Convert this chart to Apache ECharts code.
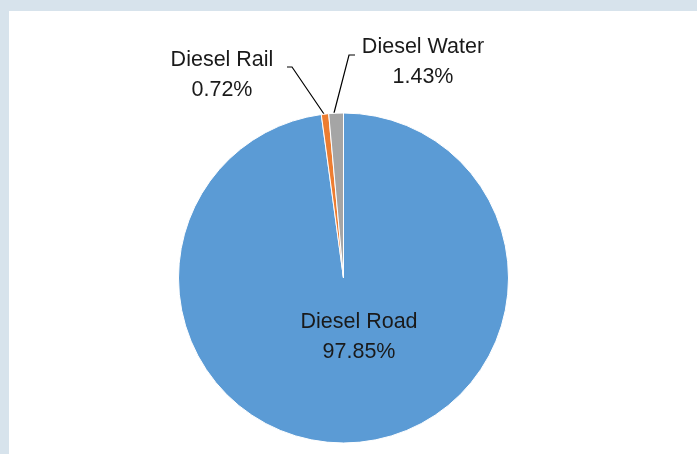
<!DOCTYPE html>
<html><head><meta charset="utf-8">
<script src="https://cdn.jsdelivr.net/npm/echarts@6/dist/echarts.min.js"></script>
<style>html,body{margin:0;padding:0;}#c{width:697px;height:454px;}</style>
</head><body><div id="c"></div>
<script>
const categories = ['Diesel Road', 'Diesel Rail', 'Diesel Water'];
const values = [97.85, 0.72, 1.43];
const colors = ['#5b9bd5', '#ed7d31', '#a5a5a5'];

const chart = echarts.init(document.getElementById('c'));
const txt = {color: '#1a1a1a', fontSize: 21.5, fontFamily: 'Liberation Sans', lineHeight: 30};
const data = categories.map((n, i) => ({
  name: n, value: values[i], itemStyle: {color: colors[i]},
  label: i === 0 ? {position: 'inside'} : {position: 'outside'},
  labelLine: {show: i !== 0}
}));
chart.setOption({
  backgroundColor: '#d7e3ec',
  graphic: [{type: 'rect', shape: {x: 9, y: 11, width: 700, height: 450}, style: {fill: '#ffffff'}, z: -10}],
  series: [{
    type: 'pie', center: [343.5, 278], radius: 165, startAngle: 90, clockwise: true,
    animation: false, silent: true,
    itemStyle: {borderColor: '#ffffff', borderWidth: 1},
    label: Object.assign({show: true, formatter: '{b}\n{d}%', align: 'center'}, txt),
    labelLine: {show: true, lineStyle: {color: '#000', width: 1.2}},
    labelLayout: function (p) {
      if (p.dataIndex === 0) return {x: 359, y: 337, align: 'center', verticalAlign: 'middle'};
      if (p.dataIndex === 1) return {x: 222, y: 75, align: 'center', verticalAlign: 'middle',
        labelLinePoints: [[324, 114], [292, 67], [287, 67]]};
      return {x: 423, y: 62, align: 'center', verticalAlign: 'middle',
        labelLinePoints: [[334, 113], [349, 55], [355, 55]]};
    },
    data: data
  }]
});
</script></body></html>
